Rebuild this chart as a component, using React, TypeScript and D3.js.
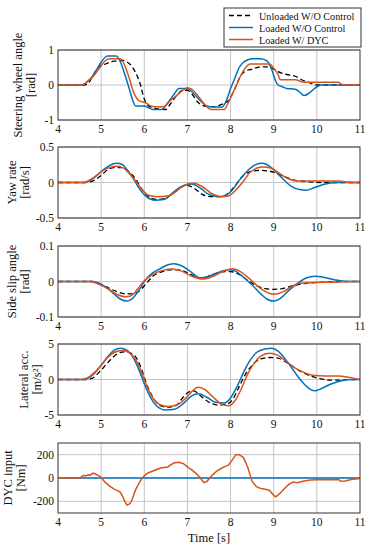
import * as d3 from 'd3';

type Pt = [number, number];

const timeTicks = [4, 5, 6, 7, 8, 9, 10, 11];
const seriesNames = ['Unloaded W/O Control', 'Loaded W/O Control', 'Loaded W/ DYC'];

// steering wheel angle [rad]
const steerUnloaded: Pt[] = [
  [4, 0], [4.6, 0], [4.7, 0.05], [4.8, 0.25], [4.9, 0.45], [5.0, 0.57], [5.1, 0.6], [5.2, 0.65],
  [5.3, 0.68], [5.5, 0.7], [5.6, 0.66], [5.7, 0.55], [5.8, 0.35], [5.9, 0.05], [6.0, -0.4],
  [6.1, -0.6], [6.2, -0.65], [6.5, -0.7], [6.6, -0.55], [6.75, -0.3], [6.9, -0.15], [7.0, -0.15],
  [7.1, -0.25], [7.25, -0.5], [7.4, -0.6], [7.6, -0.62], [7.8, -0.55], [7.95, -0.45], [8.1, -0.1],
  [8.25, 0.3], [8.35, 0.4], [8.5, 0.45], [8.7, 0.52], [8.85, 0.52], [9.0, 0.45], [9.1, 0.38],
  [9.3, 0.3], [9.5, 0.25], [9.65, 0.15], [9.8, 0.08], [10.0, 0], [11, 0],
];
const steerLoaded: Pt[] = [
  [4, 0], [4.55, 0], [4.7, 0.12], [4.8, 0.25], [4.9, 0.45], [5.0, 0.65], [5.1, 0.8], [5.15, 0.83],
  [5.35, 0.83], [5.45, 0.65], [5.55, 0.3], [5.65, -0.1], [5.75, -0.5], [5.8, -0.6], [6.0, -0.6],
  [6.1, -0.65], [6.2, -0.7], [6.4, -0.7], [6.55, -0.5], [6.7, -0.25], [6.8, -0.1], [7.0, -0.1],
  [7.15, -0.25], [7.3, -0.45], [7.45, -0.6], [7.6, -0.63], [7.8, -0.63], [7.9, -0.45], [8.0, -0.1],
  [8.1, 0.2], [8.2, 0.5], [8.3, 0.65], [8.4, 0.72], [8.5, 0.75], [8.7, 0.75], [8.85, 0.68],
  [8.95, 0.45], [9.05, 0.1], [9.1, 0.0], [9.2, -0.05], [9.3, -0.1], [9.5, -0.12], [9.6, -0.2],
  [9.7, -0.3], [9.8, -0.25], [9.9, -0.15], [10.0, -0.05], [10.1, 0], [11, 0],
];
const steerDyc: Pt[] = [
  [4, 0], [4.55, 0], [4.7, 0.12], [4.8, 0.22], [4.9, 0.38], [5.0, 0.55], [5.1, 0.7], [5.2, 0.75],
  [5.45, 0.75], [5.55, 0.55], [5.65, 0.2], [5.75, -0.2], [5.85, -0.42], [5.95, -0.48], [6.05, -0.52],
  [6.15, -0.6], [6.25, -0.62], [6.45, -0.62], [6.6, -0.45], [6.75, -0.3], [6.9, -0.15], [7.0, -0.08],
  [7.1, -0.12], [7.3, -0.4], [7.45, -0.62], [7.55, -0.7], [7.85, -0.7], [7.95, -0.5], [8.1, -0.1],
  [8.25, 0.3], [8.35, 0.5], [8.45, 0.6], [8.9, 0.6], [9.0, 0.48], [9.1, 0.3], [9.15, 0.15],
  [9.5, 0.15], [9.7, 0.08], [10.5, 0.08], [10.6, 0], [11, 0],
];

// yaw rate [rad/s]
const yawUnloaded: Pt[] = [
  [4, 0], [4.65, 0], [4.8, 0.02], [5.0, 0.1], [5.15, 0.18], [5.3, 0.21], [5.5, 0.21], [5.65, 0.15],
  [5.8, 0.05], [5.95, -0.1], [6.15, -0.22], [6.3, -0.24], [6.5, -0.22], [6.7, -0.13], [6.9, -0.05],
  [7.0, -0.04], [7.15, -0.08], [7.35, -0.17], [7.55, -0.2], [7.75, -0.2], [7.95, -0.15], [8.1, -0.05],
  [8.3, 0.1], [8.5, 0.16], [8.7, 0.17], [8.9, 0.16], [9.1, 0.12], [9.3, 0.07], [9.5, 0.03],
  [9.8, 0.01], [10.1, 0], [11, 0],
];
const yawLoaded: Pt[] = [
  [4, 0], [4.6, 0], [4.75, 0.03], [4.9, 0.1], [5.05, 0.18], [5.2, 0.24], [5.35, 0.27], [5.5, 0.25],
  [5.6, 0.18], [5.75, 0.05], [5.9, -0.1], [6.05, -0.2], [6.25, -0.25], [6.45, -0.24], [6.65, -0.15],
  [6.85, -0.06], [7.1, -0.02], [7.3, -0.08], [7.5, -0.17], [7.75, -0.2], [7.9, -0.18], [8.05, -0.1],
  [8.2, 0.03], [8.4, 0.17], [8.55, 0.24], [8.7, 0.27], [8.85, 0.25], [9.0, 0.18], [9.2, 0.06],
  [9.4, -0.05], [9.6, -0.1], [9.75, -0.11], [9.95, -0.07], [10.2, -0.02], [10.5, 0], [11, 0],
];
const yawDyc: Pt[] = [
  [4, 0], [4.6, 0], [4.75, 0.04], [4.9, 0.1], [5.05, 0.17], [5.2, 0.21], [5.35, 0.23], [5.5, 0.21],
  [5.65, 0.13], [5.8, 0.02], [5.95, -0.1], [6.1, -0.18], [6.3, -0.2], [6.55, -0.19], [6.75, -0.12],
  [6.95, -0.03], [7.15, -0.01], [7.35, -0.06], [7.55, -0.15], [7.8, -0.2], [7.95, -0.19], [8.1, -0.12],
  [8.3, 0.02], [8.45, 0.14], [8.6, 0.2], [8.75, 0.22], [8.95, 0.2], [9.15, 0.12], [9.35, 0.05],
  [9.6, 0.02], [10.0, 0.02], [10.5, 0.02], [10.8, 0], [11, 0],
];

// side slip angle [rad]
const slipUnloaded: Pt[] = [
  [4, 0], [4.8, 0], [5.0, -0.008], [5.2, -0.02], [5.4, -0.03], [5.6, -0.035], [5.75, -0.034],
  [5.9, -0.025], [6.05, -0.005], [6.2, 0.015], [6.4, 0.027], [6.6, 0.033], [6.8, 0.033], [7.0, 0.025],
  [7.2, 0.013], [7.35, 0.01], [7.55, 0.018], [7.8, 0.027], [8.0, 0.028], [8.2, 0.02], [8.4, 0.003],
  [8.6, -0.012], [8.8, -0.02], [9.0, -0.022], [9.2, -0.02], [9.4, -0.013], [9.7, -0.006],
  [10.0, -0.003], [10.4, -0.001], [10.8, 0], [11, 0],
];
const slipLoaded: Pt[] = [
  [4, 0], [4.8, 0], [4.95, -0.005], [5.1, -0.015], [5.3, -0.035], [5.45, -0.05], [5.6, -0.055],
  [5.75, -0.045], [5.9, -0.02], [6.0, 0], [6.15, 0.02], [6.35, 0.035], [6.55, 0.047], [6.7, 0.05],
  [6.85, 0.045], [7.05, 0.03], [7.3, 0.01], [7.5, 0.015], [7.75, 0.027], [7.95, 0.033], [8.1, 0.03],
  [8.3, 0.012], [8.5, -0.01], [8.7, -0.035], [8.85, -0.05], [9.0, -0.055], [9.15, -0.048],
  [9.35, -0.025], [9.55, -0.005], [9.75, 0.01], [9.95, 0.015], [10.15, 0.012], [10.4, 0.005],
  [10.7, 0], [11, 0],
];
const slipDyc: Pt[] = [
  [4, 0], [4.75, 0], [4.95, -0.008], [5.15, -0.02], [5.35, -0.035], [5.55, -0.043], [5.7, -0.04],
  [5.85, -0.02], [6.0, 0.002], [6.2, 0.02], [6.45, 0.032], [6.65, 0.035], [6.85, 0.03], [7.1, 0.015],
  [7.35, 0.007], [7.6, 0.015], [7.85, 0.03], [8.05, 0.036], [8.2, 0.03], [8.4, 0.012], [8.6, -0.01],
  [8.8, -0.028], [9.0, -0.036], [9.2, -0.03], [9.4, -0.015], [9.6, -0.005], [9.9, -0.003],
  [10.3, -0.002], [10.8, 0], [11, 0],
];

// lateral acceleration [m/s^2]
const accUnloaded: Pt[] = [
  [4, 0], [4.65, 0], [4.8, 0.2], [4.95, 1.0], [5.1, 2.0], [5.25, 3.0], [5.4, 3.7], [5.55, 3.9],
  [5.7, 3.7], [5.85, 2.7], [5.95, 1.2], [6.05, -0.6], [6.2, -2.5], [6.35, -3.6], [6.55, -3.9],
  [6.75, -3.6], [6.9, -2.5], [7.05, -1.7], [7.15, -1.6], [7.3, -2.3], [7.5, -3.2], [7.7, -3.6],
  [7.9, -3.5], [8.05, -2.8], [8.2, -1.0], [8.35, 0.8], [8.5, 2.0], [8.7, 2.9], [8.9, 3.1], [9.1, 3.0],
  [9.3, 2.4], [9.5, 1.6], [9.7, 0.9], [9.9, 0.4], [10.1, 0.1], [10.3, -0.1], [10.5, -0.1],
  [10.8, 0], [11, 0],
];
const accLoaded: Pt[] = [
  [4, 0], [4.6, 0], [4.7, 0.2], [4.85, 0.9], [5.0, 2.0], [5.15, 3.2], [5.3, 4.1], [5.45, 4.4],
  [5.6, 4.1], [5.75, 3.0], [5.9, 1.0], [6.0, -0.6], [6.15, -2.6], [6.3, -3.8], [6.5, -4.3],
  [6.7, -4.2], [6.9, -3.4], [7.1, -2.3], [7.25, -2.0], [7.45, -2.5], [7.65, -3.2], [7.85, -3.3],
  [8.0, -2.6], [8.15, -1.0], [8.3, 1.0], [8.45, 2.7], [8.6, 3.8], [8.8, 4.3], [8.95, 4.4], [9.1, 4.0],
  [9.25, 3.0], [9.4, 1.8], [9.55, 0.5], [9.7, -0.6], [9.85, -1.4], [9.95, -1.6], [10.1, -1.3],
  [10.3, -0.7], [10.55, -0.2], [10.8, 0], [11, 0],
];
const accDyc: Pt[] = [
  [4, 0], [4.55, 0], [4.7, 0.3], [4.85, 1.0], [5.0, 2.0], [5.15, 3.1], [5.3, 3.8], [5.5, 4.1],
  [5.65, 3.8], [5.8, 2.8], [5.95, 0.8], [6.05, -0.8], [6.2, -2.6], [6.35, -3.5], [6.55, -3.8],
  [6.75, -3.6], [6.95, -2.7], [7.1, -1.7], [7.25, -1.1], [7.4, -1.4], [7.6, -2.5], [7.8, -3.5],
  [7.95, -3.7], [8.1, -3.0], [8.25, -1.3], [8.4, 0.8], [8.55, 2.3], [8.7, 3.3], [8.9, 3.7],
  [9.1, 3.4], [9.3, 2.5], [9.5, 1.6], [9.7, 1.0], [9.9, 0.6], [10.2, 0.5], [10.5, 0.5],
  [10.75, 0.3], [11, 0],
];

// DYC input [Nm]
const dycLoaded: Pt[] = [[4, 0], [11, 0]];
const dycDyc: Pt[] = [
  [4, 0], [4.52, 0], [4.55, 15], [4.6, 22], [4.65, 20], [4.7, 28], [4.75, 25], [4.8, 40], [4.85, 38],
  [4.9, 28], [5.0, 5], [5.1, -40], [5.2, -70], [5.3, -95], [5.4, -110], [5.45, -125], [5.5, -160],
  [5.55, -200], [5.6, -232], [5.65, -225], [5.7, -200], [5.75, -150], [5.8, -100], [5.9, -30],
  [5.95, 0], [6.05, 35], [6.1, 45], [6.2, 60], [6.3, 75], [6.4, 88], [6.55, 95], [6.6, 110],
  [6.7, 130], [6.8, 135], [6.9, 125], [7.0, 95], [7.1, 70], [7.2, 40], [7.3, 0], [7.38, -40],
  [7.45, -30], [7.55, 15], [7.65, 50], [7.75, 75], [7.85, 95], [7.95, 110], [8.05, 160], [8.12, 200],
  [8.2, 200], [8.3, 175], [8.4, 90], [8.5, -30], [8.6, -75], [8.7, -90], [8.8, -97], [8.9, -105],
  [9.0, -150], [9.05, -162], [9.15, -130], [9.25, -90], [9.35, -55], [9.45, -35], [9.55, -40],
  [9.7, -25], [9.85, -18], [10.0, -15], [10.5, -12], [10.55, -28], [10.65, -25], [10.8, -12],
  [11, -5],
];

const panels = [
  { label: 'Steering wheel angle', unit: '[rad]', domain: [-1, 1], ticks: [-1, 0, 1], top: 50, bottom: 120, lx: 22, ux: 35,
    series: [steerUnloaded, steerLoaded, steerDyc] },
  { label: 'Yaw rate', unit: '[rad/s]', domain: [-0.5, 0.5], ticks: [-0.5, 0, 0.5], top: 147, bottom: 218, lx: 16, ux: 29,
    series: [yawUnloaded, yawLoaded, yawDyc] },
  { label: 'Side slip angle', unit: '[rad]', domain: [-0.1, 0.1], ticks: [-0.1, 0, 0.1], top: 246, bottom: 317, lx: 16, ux: 29,
    series: [slipUnloaded, slipLoaded, slipDyc] },
  { label: 'Lateral acc.', unit: '[m/s²]', domain: [-5, 5], ticks: [-5, 0, 5], top: 344, bottom: 415, lx: 28, ux: 41,
    series: [accUnloaded, accLoaded, accDyc] },
  { label: 'DYC input', unit: '[Nm]', domain: [-300, 300], ticks: [-200, 0, 200], top: 443, bottom: 513, lx: 12, ux: 25,
    series: [null, dycLoaded, dycDyc] },
];

const colors = ['#000000', '#0072BD', '#D95319'];
const FONT = "'Liberation Serif', 'Times New Roman', serif";

export default function App() {
  const left = 58;
  const right = 360;
  const x = d3.scaleLinear().domain([4, 11]).range([left, right]);

  return (
    <svg width={371} height={550} style={{ position: 'absolute', left: 0, top: 0, fontFamily: FONT }}>
      <rect width={371} height={550} fill="#fff" />
      {panels.map((p, pi) => {
        const y = d3.scaleLinear().domain(p.domain).range([p.bottom, p.top]);
        const line = d3
          .line<Pt>()
          .x((d) => x(d[0]))
          .y((d) => y(d[1]))
          .curve(pi === 4 ? d3.curveLinear : d3.curveMonotoneX);
        const mid = (p.top + p.bottom) / 2;
        return (
          <g key={pi}>
            {timeTicks.slice(1, -1).map((t) => (
              <line key={t} x1={x(t)} x2={x(t)} y1={p.top} y2={p.bottom} stroke="#c4c4c4" strokeWidth={1} />
            ))}
            {p.ticks.map((t) => (
              <line key={t} x1={left} x2={right} y1={y(t)} y2={y(t)} stroke="#c4c4c4" strokeWidth={1} />
            ))}
            <clipPath id={`clip${pi}`}>
              <rect x={left} y={p.top} width={right - left} height={p.bottom - p.top} />
            </clipPath>
            <g clipPath={`url(#clip${pi})`}>
              {p.series.map((s, si) =>
                s ? (
                  <path
                    key={si}
                    d={line(s) ?? ''}
                    fill="none"
                    stroke={colors[si]}
                    strokeWidth={si === 0 ? 1.3 : 1.5}
                    strokeDasharray={si === 0 ? '5,3' : undefined}
                  />
                ) : null,
              )}
            </g>
            <rect x={left} y={p.top} width={right - left} height={p.bottom - p.top} fill="none" stroke="#333" strokeWidth={1} />
            {p.ticks.map((t) => (
              <text key={t} x={left - 4} y={y(t) + 4} textAnchor="end" fontSize={11.5} fill="#111">
                {t}
              </text>
            ))}
            {timeTicks.map((t) => (
              <text key={t} x={x(t)} y={p.bottom + 13} textAnchor="middle" fontSize={11.5} fill="#111">
                {t}
              </text>
            ))}
            <text transform={`translate(${p.lx},${mid}) rotate(-90)`} textAnchor="middle" fontSize={12.5} fill="#111">
              {p.label}
            </text>
            <text transform={`translate(${p.ux},${mid}) rotate(-90)`} textAnchor="middle" fontSize={12.5} fill="#111">
              {p.unit}
            </text>
          </g>
        );
      })}
      <text x={(left + right) / 2} y={542} textAnchor="middle" fontSize={12.5} fill="#111">
        Time [s]
      </text>
      <g>
        <rect x={224} y={8} width={137} height={39} fill="#fff" stroke="#333" strokeWidth={1} />
        {seriesNames.map((n, i) => (
          <g key={n}>
            <line
              x1={229}
              x2={253}
              y1={15.5 + i * 12}
              y2={15.5 + i * 12}
              stroke={colors[i]}
              strokeWidth={1.5}
              strokeDasharray={i === 0 ? '5,3' : undefined}
            />
            <text x={259} y={19.5 + i * 12} fontSize={10.2} fill="#111">
              {n}
            </text>
          </g>
        ))}
      </g>
    </svg>
  );
}
